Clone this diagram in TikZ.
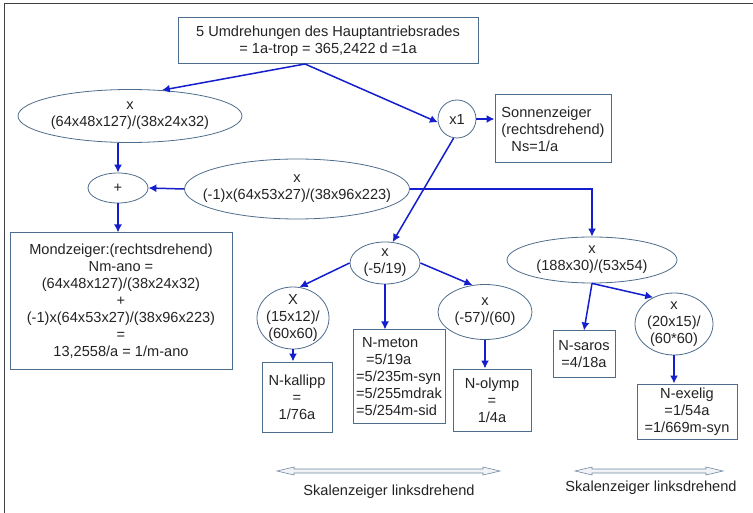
\documentclass[tikz,border=0pt]{standalone}
\usepackage{fontspec}
\setmainfont{Liberation Sans}
\usetikzlibrary{arrows.meta, shapes.geometric}

\definecolor{framecol}{RGB}{78,108,140}
\definecolor{linkblue}{RGB}{20,30,205}
\definecolor{textcol}{RGB}{35,35,35}
\newcommand\fs{\fontsize{14.6}{17}\selectfont}

\begin{document}
\begin{tikzpicture}[
    x=1pt, y=-1pt,
    >={Latex[length=8pt,width=8pt]}, % arrow tip for all links
    every node/.style={font=\fs, text=textcol},
    box/.style={draw=framecol, line width=1pt, align=center, inner sep=1pt}, % result boxes
    gear/.style={ellipse, draw=framecol, line width=.8pt, inner sep=0pt}, % gear ratios
    gtext/.style={align=center, inner sep=0pt}, % text inside a gear
    link/.style={->, draw=linkblue, line width=1.5pt}, % blue connectors
    scalearrow/.style={draw=framecol!80, fill=framecol!8, line width=.6pt}, % double arrows
    caption/.style={inner sep=0pt}
]

    \useasboundingbox (0,0) rectangle (753,513);

    % outer frame (top and left only)
    \draw[black!75, line width=1.5pt] (4.5,513) -- (4.5,3.5) -- (753,3.5);

    % main drive
    \node[box, minimum width=300, minimum height=46] (top) at (328,41)
        {5 Umdrehungen des Hauptantriebsrades\\= 1a-trop = 365,2422 d =1a};
    \coordinate (split) at (305,64);

    % moon branch
    \node[gear, minimum width=224, minimum height=53,
          label={[gtext]center:x\\(64x48x127)/(38x24x32)}] (gearA) at (130,116) {};
    \node[gear, minimum width=60, minimum height=30,
          label={[gtext]center:+}] (plus) at (118,188) {};
    \node[gear, minimum width=225, minimum height=60,
          label={[gtext]center:x\\(-1)x(64x53x27)/(38x96x223)}] (gearB) at (297,189) {};
    \node[box, minimum width=222, minimum height=136] (moon) at (121,301)
        {Mondzeiger:(rechtsdrehend)\\Nm-ano =\\(64x48x127)/(38x24x32)\\+\\(-1)x(64x53x27)/(38x96x223)\\=\\13,2558/a = 1/m-ano};

    % sun branch
    \node[circle, draw=framecol, line width=.8pt, minimum size=38, inner sep=0pt] (one) at (457,119) {x1};
    \node[box, align=left, minimum width=116, minimum height=68] (sun) at (553,129)
        {Sonnenzeiger\\(rechtsdrehend)\\\hspace{10pt}Ns=1/a};

    % metonic branch
    \node[gear, minimum width=70, minimum height=42,
          label={[gtext]center:x\\(-5/19)}] (gearC) at (385,263) {};
    \node[gear, minimum width=72, minimum height=62,
          label={[gtext]center:X\\(15x12)/\\(60x60)}] (gearK) at (293,318) {};
    \node[gear, minimum width=94, minimum height=55,
          label={[gtext]center:x\\(-57)/(60)}] (gearO) at (485,312) {};
    \node[box, minimum width=70, minimum height=70] (kallipp) at (297,397) {N-kallipp\\=\\1/76a};
    \node[box, align=left, minimum width=92, minimum height=93] (meton) at (399,376.5)
        {\hspace{6pt}N-meton\\\hspace{10pt}=5/19a\\=5/235m-syn\\=5/255mdrak\\=5/254m-sid};
    \node[box, minimum width=78, minimum height=62] (olymp) at (492,400) {N-olymp\\=\\1/4a};

    % saros branch
    \node[gear, minimum width=170, minimum height=46,
          label={[gtext]center:x\\(188x30)/(53x54)}] (gearS) at (592,260) {};
    \node[gear, minimum width=78, minimum height=62,
          label={[gtext]center:x\\(20x15)/\\(60*60)}] (gearE) at (674,324) {};
    \node[box, minimum width=62, minimum height=46] (saros) at (584,354) {N-saros\\=4/18a};
    \node[box, minimum width=100, minimum height=55] (exelig) at (687,411.5)
        {N-exelig\\=1/54a\\=1/669m-syn};

    % links
    \draw[link] (split) -- (gearA.39);
    \draw[link] (split) -- (one.190);
    \draw[link] (one.east) -- (one.east -| sun.west);
    \draw[link] (plus.north |- gearA.south) -- (plus.north);
    \draw[link] (gearB.west) -- (plus.east);
    \draw[link] (plus.south) -- (plus.south |- moon.north);
    \draw[link] (gearB.east) -- (gearB.east -| gearS.north) -- (gearS.north);
    \draw[link] (one.-100) -- (gearC.70);
    \draw[link] (gearC.west) -- (gearK.78);
    \draw[link] (gearC.south) -- (gearC.south |- meton.north);
    \draw[link] (gearC.east) -- (gearO.115);
    \draw[link] (gearK.south) -- (gearK.south |- kallipp.north);
    \draw[link] (gearO.south) -- (gearO.south |- olymp.north);
    \draw[link] (gearS.south) -- (saros.north);
    \draw[link] (gearS.south) -- (gearE.128);
    \draw[link] (gearE.south) -- (gearE.south |- exelig.north);

    % scale pointers
    \foreach \xa/\xb/\yy in {277/500/471, 575/723/471} {
        \draw[scalearrow] (\xa,\yy) -- ++(17,-4) -- ++(0,2) -- (\xb-17,\yy-2) -- ++(0,-2)
            -- (\xb,\yy) -- ++(-17,4) -- ++(0,-2) -- (\xa+17,\yy+2) -- ++(0,2) -- cycle;
    }
    \node[caption] (lblA) at (389,492) {Skalenzeiger linksdrehend};
    \node[caption] (lblB) at (651,488) {Skalenzeiger linksdrehend};

\end{tikzpicture}
\end{document}
